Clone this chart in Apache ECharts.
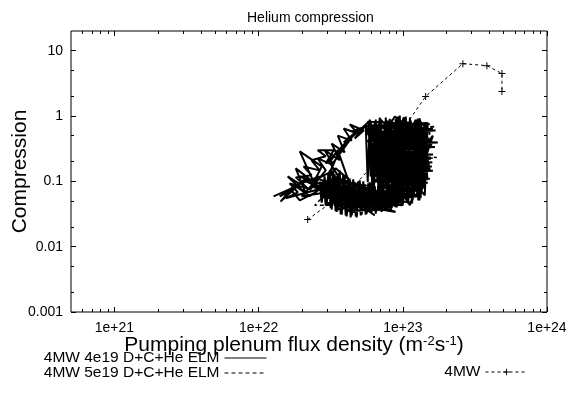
<!DOCTYPE html>
<html>
<head>
<meta charset="utf-8">
<title>Helium compression</title>
<script src="https://cdn.jsdelivr.net/npm/echarts@6/dist/echarts.min.js"></script>
<style>
html, body { margin: 0; background: #fff; }
#chart { width: 570px; height: 394px; }
</style>
</head>
<body>
<div id="chart"></div>
<script>
// pumping plenum flux in units of 1e22 m^-2 s^-1, compression dimensionless
var flux4e19 = [
	1.27, 1.69, 1.42, 1.93, 1.59, 2.12, 1.81, 2.41, 1.93, 2.74, 2.26, 2.92, 2.57, 3.32, 2.87, 3.65, 3.21, 3.95, 3.54, 4.42, 3.89, 4.87,
	4.29, 5.36, 4.64, 5.71, 3.77, 3.11, 2.57, 3.37, 2.33, 3.01, 1.99, 2.65, 1.75, 1.52, 2.05, 2.74, 3.42, 4.15, 3.54, 3.11, 3.65, 3.95,
	1.54, 1.87, 1.64, 2.19, 1.81, 2.33, 2.05, 2.65, 2.33, 2.92, 2.57, 3.32, 2.92, 3.77, 3.42, 4.29, 3.89, 5.03, 4.42, 5.53, 4.57, 3.27,
	3.11, 2.49, 1.93, 1.69, 1.40, 1.81, 2.26, 2.83, 3.54, 3.21, 2.49, 1.93,
	8.90, 3.11, 9.23, 2.87, 8.12, 3.37, 8.67, 2.74, 7.20, 3.95, 7.62, 3.65, 6.39, 4.29, 5.45, 3.21,
	2.65, 2.74, 2.87, 2.96, 3.11, 3.21, 3.37, 3.48, 3.65, 3.77, 3.95, 4.08, 4.29, 4.42, 4.64, 4.79, 5.03, 5.18, 5.45, 5.62, 5.90, 6.09,
	6.39, 6.60, 6.92, 7.14, 7.50, 7.70, 8.12, 8.37, 8.80, 9.06, 9.53, 9.83,
	2.70, 2.81, 2.92, 3.04, 3.16, 3.29, 3.42, 3.57, 3.71, 3.86, 4.02, 4.18, 4.35, 4.53, 4.72, 4.91, 5.11, 5.32, 5.53, 5.76, 5.99, 6.24,
	6.49, 6.76, 7.03, 7.32, 7.62, 7.93, 8.25, 8.59, 8.94, 9.30,
	5.71, 15.4, 5.90, 16.9, 5.62, 14.2, 5.81, 17.5, 5.98, 14.9, 5.71, 16.2, 6.09, 14.4, 5.90, 15.9, 6.19, 14.0, 5.98, 15.4, 6.48, 13.5,
	6.92, 13.1, 7.38, 12.7, 7.87, 11.5,
	14.68, 5.45, 16.16, 5.71, 13.55, 5.81, 15.4, 5.90, 16.7, 5.81, 14.0, 5.99, 15.65, 5.81, 14.68, 6.09, 16.16, 5.90, 13.77, 6.29, 14.9, 6.70,
	12.92, 7.14, 13.34, 7.62,
	5.53, 5.71, 5.90, 6.14, 6.39, 6.65, 6.92, 7.20, 7.50, 7.80, 8.12, 8.45, 8.80, 9.16, 9.53, 9.92, 10.3, 10.75, 11.2, 11.6, 12.1, 12.6,
	13.1, 13.6, 14.2, 14.8, 13.8, 13.3, 12.7, 11.7, 10.8, 10.0, 9.23, 8.53, 7.87, 7.26, 6.70, 6.29, 5.81, 5.98,
	5.99, 6.24, 6.49, 6.76, 7.03, 7.32, 7.62, 7.93, 8.25, 8.59, 8.94, 9.30, 9.68, 10.08, 10.49, 10.92, 11.36, 11.83, 12.31, 12.81, 13.34, 13.88,
	14.45,
	9.38, 2.78, 8.94, 2.97, 6.92, 3.27, 8.39, 3.54, 7.87, 3.95, 7.62, 4.42,
	8.80, 5.90, 14.2, 14.9, 6.09, 6.92, 15.4, 13.1, 5.81, 8.80, 15.9, 5.71, 11.2, 16.16, 7.50, 5.90, 9.53, 12.31, 6.49, 10.16, 13.1
];
var comp4e19 = [
	0.059, 0.078, 0.049, 0.091, 0.119, 0.066, 0.158, 0.097, 0.287, 0.169, 0.073, 0.147, 0.224, 0.175, 0.30, 0.21, 0.38, 0.277, 0.50, 0.42, 0.644, 0.54,
	0.745, 0.60, 0.453, 0.79, 0.342, 0.137, 0.11, 0.087, 0.084, 0.068, 0.059, 0.119, 0.084, 0.063, 0.104, 0.078, 0.158, 0.11, 0.30, 0.195, 0.11, 0.097,
	0.055, 0.068, 0.093, 0.078, 0.115, 0.124, 0.169, 0.147, 0.21, 0.242, 0.30, 0.30, 0.188, 0.33, 0.224, 0.486, 0.394, 0.644, 0.58, 0.69, 0.52, 0.188,
	0.104, 0.068, 0.051, 0.073, 0.059, 0.084, 0.059, 0.084, 0.119, 0.063, 0.090, 0.119,
	0.034, 0.051, 0.051, 0.073, 0.043, 0.043, 0.059, 0.061, 0.037, 0.035, 0.053, 0.073, 0.030, 0.061, 0.045, 0.084,
	0.097, 0.047, 0.119, 0.042, 0.147, 0.037, 0.128, 0.034, 0.147, 0.031, 0.119, 0.029, 0.11, 0.030, 0.097, 0.028, 0.104, 0.031, 0.090, 0.032, 0.097, 0.034,
	0.084, 0.035, 0.090, 0.034, 0.073, 0.036, 0.078, 0.039, 0.063, 0.040, 0.068, 0.043,
	0.057, 0.100, 0.043, 0.128, 0.039, 0.142, 0.035, 0.133, 0.031, 0.128, 0.030, 0.115, 0.028, 0.107, 0.029, 0.100, 0.030, 0.100, 0.031, 0.093, 0.034, 0.097,
	0.032, 0.090, 0.035, 0.081, 0.036, 0.075, 0.037, 0.070, 0.040, 0.066,
	0.82, 0.745, 0.667, 0.60, 0.54, 0.486, 0.437, 0.394, 0.355, 0.319, 0.287, 0.258, 0.232, 0.21, 0.188, 0.169, 0.152, 0.137, 0.124, 0.11, 0.100, 0.090,
	0.081, 0.073, 0.066, 0.059, 0.053, 0.047,
	0.782, 0.704, 0.634, 0.570, 0.513, 0.461, 0.415, 0.374, 0.336, 0.303, 0.272, 0.245, 0.221, 0.199, 0.179, 0.161, 0.145, 0.130, 0.117, 0.105, 0.095, 0.085,
	0.077, 0.069, 0.062, 0.056,
	0.745, 0.097, 0.88, 0.078, 0.79, 0.11, 0.95, 0.059, 0.82, 0.051, 0.91, 0.045, 0.77, 0.055, 1.02, 0.042, 0.85, 0.051, 0.95, 0.046, 0.79, 0.059,
	0.88, 0.073, 0.69, 0.104, 0.60, 0.055, 0.91, 0.051, 0.82, 0.043, 0.98, 0.049, 0.85, 0.055, 0.745, 0.073, 0.69, 0.119,
	0.82, 0.073, 0.88, 0.084, 0.77, 0.053, 0.95, 0.046, 0.79, 0.055, 0.91, 0.043, 0.82, 0.051, 0.98, 0.045, 0.85, 0.057, 0.745, 0.051, 0.82, 0.078,
	0.644,
	0.057, 0.084, 0.045, 0.046, 0.068, 0.119, 0.051, 0.037, 0.066, 0.087, 0.042, 0.034,
	0.043, 0.72, 0.061, 0.79, 0.087, 0.91, 0.147, 0.91, 0.21, 0.98, 0.355, 0.42, 0.043, 0.50, 0.051, 0.85, 0.046, 0.88, 0.059, 0.95, 0.051
];
var flux5e19 = [
	6.09, 14.2, 6.29, 15.9, 5.90, 14.6, 6.19, 16.4, 6.09, 14.9, 6.70, 13.3, 7.38, 13.1, 8.12, 6.92, 7.62, 8.39, 9.23, 10.2,
	11.2, 12.3, 13.1, 15.4, 6.48, 12.7, 8.80, 3.11, 3.54, 3.95, 4.42, 5.03, 5.53, 6.09, 6.70, 7.38, 2.87, 2.45, 8.80, 10.3,
	6.39, 16.9, 6.09, 15.4, 5.99, 17.2, 6.29, 15.4, 6.92, 13.77, 8.39, 3.11, 9.53, 3.37, 8.12, 3.95, 5.90
];
var comp5e19 = [
	0.72, 0.644, 0.50, 0.42, 0.342, 0.30, 0.224, 0.195, 0.147, 0.128, 0.097, 0.078, 0.068, 0.084, 0.051, 0.85, 0.061, 0.88, 0.051, 0.82,
	0.055, 0.745, 0.068, 0.56, 0.30, 0.37, 0.061, 0.087, 0.036, 0.104, 0.031, 0.093, 0.034, 0.087, 0.036, 0.061, 0.061, 0.043, 0.043, 0.073,
	0.644, 0.69, 0.453, 0.342, 0.258, 0.232, 0.169, 0.158, 0.11, 0.104, 0.073, 0.11, 0.055, 0.059, 0.039, 0.043, 0.059
];
var flux4MW = [2.19, 4.64, 8.80, 14.4, 26.1, 38.3, 48.7, 48.7];
var comp4MW = [0.026, 0.087, 0.42, 1.99, 6.33, 5.9, 4.46, 2.37];

var xRange = [5e20, 1e24];
var yRange = [0.001, 20];
var xTickExp = [21, 22, 23, 24];
var xTickLabels = ['1e+21', '1e+22', '1e+23', '1e+24'];
var yTickExp = [-3, -2, -1, 0, 1];
var yTickLabels = ['0.001', '0.01', '0.1', '1', '10'];
var xMinorMult = [2, 3, 4, 5, 6, 7, 8, 9];
var yMinorMult = [2, 5];

var FONT = 'Liberation Sans';

function pairs(xs, ys) {
	return xs.map(function(x, i) { return [Math.log10(x * 1e22), Math.log10(ys[i])]; });
}
function minorTicks(range, mults) {
	var out = [];
	for (var d = Math.floor(Math.log10(range[0])); d <= Math.ceil(Math.log10(range[1])); d++) {
		mults.forEach(function(m) {
			var v = m * Math.pow(10, d);
			if (v > range[0] * 1.0001 && v < range[1] * 0.9999) out.push(Math.log10(v));
		});
	}
	return out;
}

var lx = [Math.log10(xRange[0]), Math.log10(xRange[1])];
var ly = [Math.log10(yRange[0]), Math.log10(yRange[1])];

function xAx(pos, major) {
	return {
		type: 'value', min: lx[0], max: lx[1], position: pos,
		axisLine: { show: false, onZero: false },
		splitLine: { show: false },
		axisTick: { inside: true, length: major ? 5 : 3, customValues: major ? xTickExp : minorTicks(xRange, xMinorMult), lineStyle: { color: '#000' } },
		axisLabel: (major && pos == 'bottom') ? {
			customValues: xTickExp, margin: 9, color: '#000', fontSize: 14, fontFamily: FONT,
			formatter: function(v) { return xTickLabels[xTickExp.indexOf(Math.round(v))]; }
		} : { show: false }
	};
}
function yAx(pos, major) {
	return {
		type: 'value', min: ly[0], max: ly[1], position: pos,
		axisLine: { show: false, onZero: false },
		splitLine: { show: false },
		axisTick: { inside: true, length: major ? 5 : 3, customValues: major ? yTickExp : minorTicks(yRange, yMinorMult), lineStyle: { color: '#000' } },
		axisLabel: (major && pos == 'left') ? {
			customValues: yTickExp, margin: 8, color: '#000', fontSize: 14, fontFamily: FONT,
			formatter: function(v) { return yTickLabels[yTickExp.indexOf(Math.round(v))]; }
		} : { show: false }
	};
}

var xAxes = [xAx('bottom', true), xAx('bottom', false), xAx('top', true), xAx('top', false)];
xAxes[0].name = 'Pumping plenum flux density (m{s|-2}s{s|-1})';
xAxes[0].nameLocation = 'middle';
xAxes[0].nameGap = 23;
xAxes[0].nameMoveOverlap = false;
xAxes[0].nameTextStyle = {
	fontSize: 21, color: '#000', fontFamily: FONT, padding: [0, 30, 0, 0],
	rich: { s: { fontSize: 13, color: '#000', fontFamily: FONT, verticalAlign: 'top' } }
};
var yAxes = [yAx('left', true), yAx('left', false), yAx('right', true), yAx('right', false)];
yAxes[0].name = 'Compression';
yAxes[0].nameLocation = 'middle';
yAxes[0].nameGap = 40;
yAxes[0].nameMoveOverlap = false;
yAxes[0].nameTextStyle = { fontSize: 21, color: '#000', fontFamily: FONT };

function legendAt(name, right, top, hideSymbol) {
	return {
		data: [name], align: 'right', right: right, top: top, itemWidth: 42, itemHeight: 8, selectedMode: false,
		itemStyle: hideSymbol ? { opacity: 0 } : {},
		lineStyle: { width: 1 },
		textStyle: { fontSize: 15.5, color: '#000', fontFamily: FONT }
	};
}

var chart = echarts.init(document.getElementById('chart'));
chart.setOption({
	animation: false,
	backgroundColor: '#fff',
	textStyle: { fontFamily: FONT, color: '#000' },
	title: {
		text: 'Helium compression', left: 242, top: 6,
		textStyle: { fontSize: 14, fontWeight: 'normal', color: '#000', fontFamily: FONT }
	},
	grid: {
		left: 71, top: 31, right: 23, bottom: 82, outerBoundsMode: 'none',
		show: true, borderColor: '#000', borderWidth: 1, backgroundColor: 'transparent'
	},
	legend: [
		legendAt('4MW 4e19 D+C+He ELM', 298, 345, true),
		legendAt('4MW 5e19 D+C+He ELM', 298, 360, true),
		legendAt('4MW', 37, 359, false)
	],
	xAxis: xAxes,
	yAxis: yAxes,
	series: [
		{
			name: '4MW 4e19 D+C+He ELM', type: 'line', data: pairs(flux4e19, comp4e19),
			symbol: 'none', color: '#000', lineStyle: { color: '#000', width: 2 }, emphasis: { disabled: true }
		},
		{
			name: '4MW 5e19 D+C+He ELM', type: 'line', data: pairs(flux5e19, comp5e19),
			symbol: 'none', color: '#000', lineStyle: { color: '#000', width: 1.5, type: [4, 3] }, emphasis: { disabled: true }
		},
		{
			name: '4MW', type: 'line', data: pairs(flux4MW, comp4MW),
			symbol: 'path://M3,0H4V3H7V4H4V7H3V4H0V3H3Z', symbolSize: 7, showAllSymbol: true,
			color: '#000', itemStyle: { color: '#000' }, lineStyle: { color: '#000', width: 1, type: [3, 3] }, emphasis: { disabled: true }
		}
	]
});
</script>
</body>
</html>
